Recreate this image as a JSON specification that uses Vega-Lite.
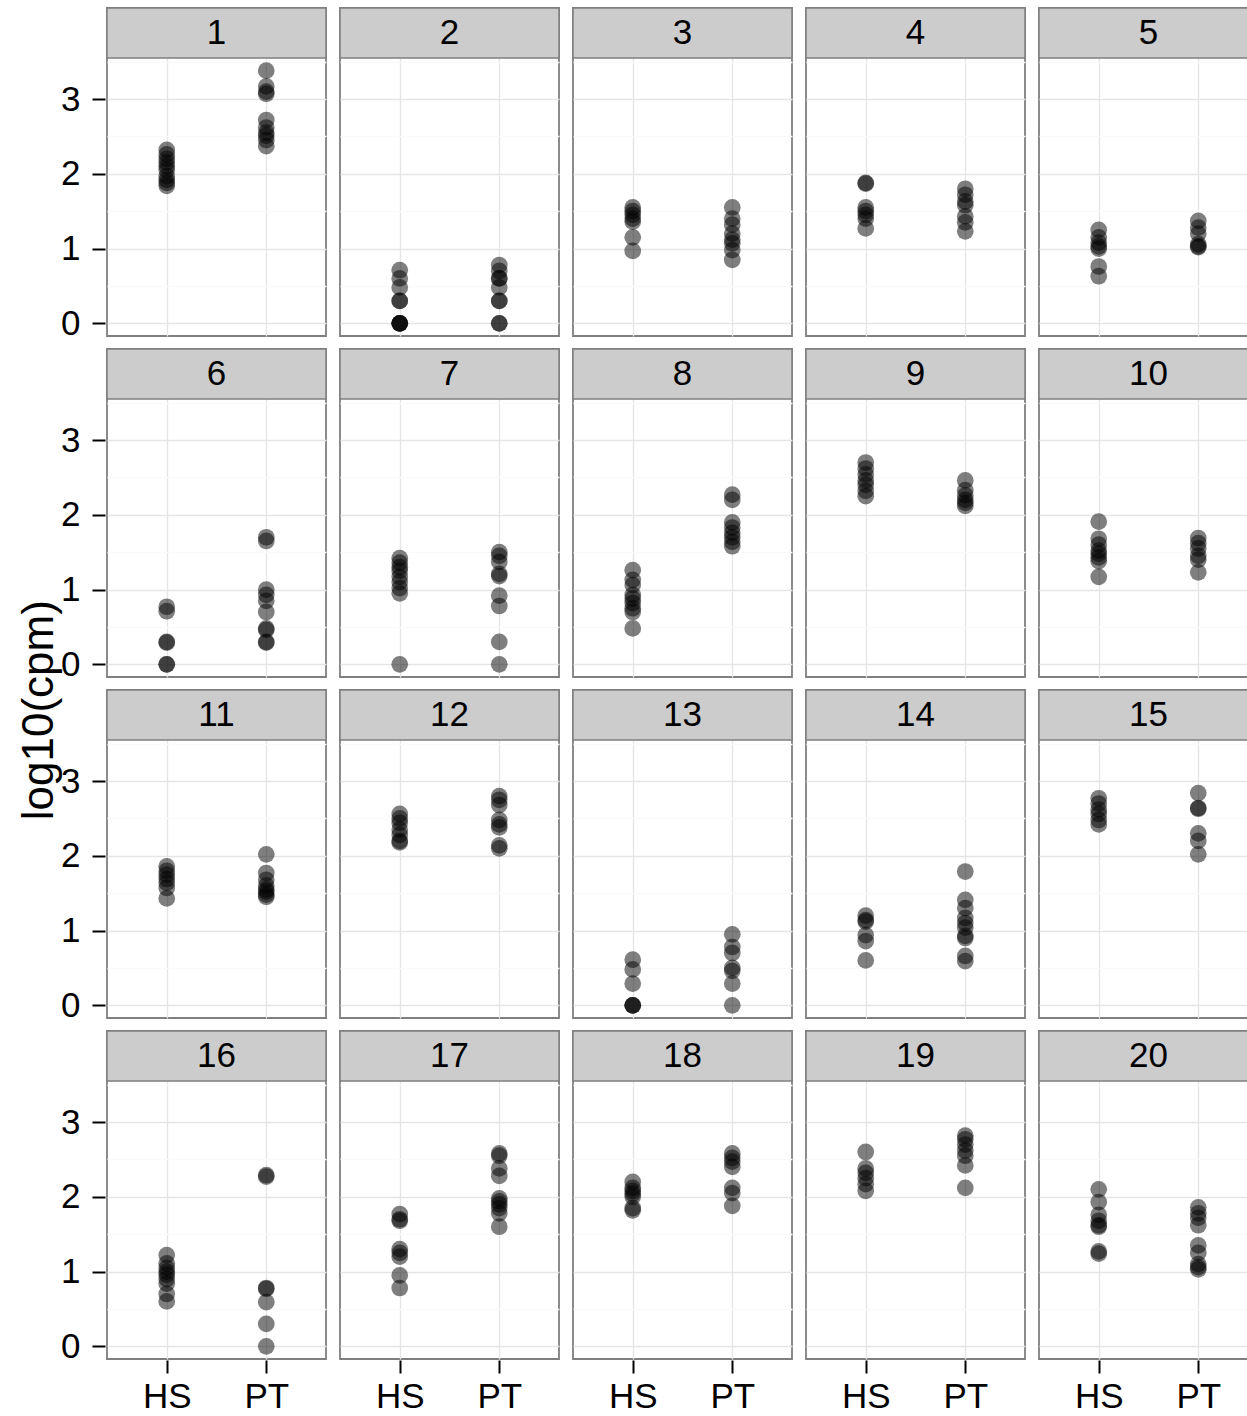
{
"$schema": "https://vega.github.io/schema/vega-lite/v6.json",
"background": "white",
"padding": {"left": 17, "top": 6, "right": 0, "bottom": 0},
"title": {"text": "log10(cpm)", "orient": "left", "anchor": "middle", "fontSize": 44, "fontWeight": "normal", "font": "Liberation Sans", "color": "black", "offset": -1},
"data": {"values": [
{"panel":1,"group":"HS","log10cpm":2.32},{"panel":1,"group":"HS","log10cpm":2.26},{"panel":1,"group":"HS","log10cpm":2.2},{"panel":1,"group":"HS","log10cpm":2.15},{"panel":1,"group":"HS","log10cpm":2.1},{"panel":1,"group":"HS","log10cpm":2.05},{"panel":1,"group":"HS","log10cpm":1.97},{"panel":1,"group":"HS","log10cpm":1.92},{"panel":1,"group":"HS","log10cpm":1.88},{"panel":1,"group":"HS","log10cpm":1.84},
{"panel":1,"group":"PT","log10cpm":3.38},{"panel":1,"group":"PT","log10cpm":3.17},{"panel":1,"group":"PT","log10cpm":3.1},{"panel":1,"group":"PT","log10cpm":3.07},{"panel":1,"group":"PT","log10cpm":2.72},{"panel":1,"group":"PT","log10cpm":2.62},{"panel":1,"group":"PT","log10cpm":2.55},{"panel":1,"group":"PT","log10cpm":2.51},{"panel":1,"group":"PT","log10cpm":2.45},{"panel":1,"group":"PT","log10cpm":2.37},
{"panel":2,"group":"HS","log10cpm":0.71},{"panel":2,"group":"HS","log10cpm":0.6},{"panel":2,"group":"HS","log10cpm":0.48},{"panel":2,"group":"HS","log10cpm":0.3},{"panel":2,"group":"HS","log10cpm":0.3},{"panel":2,"group":"HS","log10cpm":0},{"panel":2,"group":"HS","log10cpm":0},{"panel":2,"group":"HS","log10cpm":0},{"panel":2,"group":"HS","log10cpm":0},
{"panel":2,"group":"PT","log10cpm":0.78},{"panel":2,"group":"PT","log10cpm":0.7},{"panel":2,"group":"PT","log10cpm":0.6},{"panel":2,"group":"PT","log10cpm":0.6},{"panel":2,"group":"PT","log10cpm":0.48},{"panel":2,"group":"PT","log10cpm":0.3},{"panel":2,"group":"PT","log10cpm":0.3},{"panel":2,"group":"PT","log10cpm":0},{"panel":2,"group":"PT","log10cpm":0},
{"panel":3,"group":"HS","log10cpm":1.55},{"panel":3,"group":"HS","log10cpm":1.5},{"panel":3,"group":"HS","log10cpm":1.45},{"panel":3,"group":"HS","log10cpm":1.4},{"panel":3,"group":"HS","log10cpm":1.36},{"panel":3,"group":"HS","log10cpm":1.15},{"panel":3,"group":"HS","log10cpm":0.97},
{"panel":3,"group":"PT","log10cpm":1.55},{"panel":3,"group":"PT","log10cpm":1.4},{"panel":3,"group":"PT","log10cpm":1.32},{"panel":3,"group":"PT","log10cpm":1.2},{"panel":3,"group":"PT","log10cpm":1.12},{"panel":3,"group":"PT","log10cpm":1.07},{"panel":3,"group":"PT","log10cpm":0.98},{"panel":3,"group":"PT","log10cpm":0.85},
{"panel":4,"group":"HS","log10cpm":1.88},{"panel":4,"group":"HS","log10cpm":1.87},{"panel":4,"group":"HS","log10cpm":1.55},{"panel":4,"group":"HS","log10cpm":1.5},{"panel":4,"group":"HS","log10cpm":1.45},{"panel":4,"group":"HS","log10cpm":1.4},{"panel":4,"group":"HS","log10cpm":1.27},
{"panel":4,"group":"PT","log10cpm":1.8},{"panel":4,"group":"PT","log10cpm":1.72},{"panel":4,"group":"PT","log10cpm":1.63},{"panel":4,"group":"PT","log10cpm":1.58},{"panel":4,"group":"PT","log10cpm":1.43},{"panel":4,"group":"PT","log10cpm":1.35},{"panel":4,"group":"PT","log10cpm":1.23},
{"panel":5,"group":"HS","log10cpm":1.25},{"panel":5,"group":"HS","log10cpm":1.15},{"panel":5,"group":"HS","log10cpm":1.08},{"panel":5,"group":"HS","log10cpm":1.03},{"panel":5,"group":"HS","log10cpm":1.0},{"panel":5,"group":"HS","log10cpm":0.76},{"panel":5,"group":"HS","log10cpm":0.63},
{"panel":5,"group":"PT","log10cpm":1.37},{"panel":5,"group":"PT","log10cpm":1.28},{"panel":5,"group":"PT","log10cpm":1.2},{"panel":5,"group":"PT","log10cpm":1.06},{"panel":5,"group":"PT","log10cpm":1.03},{"panel":5,"group":"PT","log10cpm":1.02},
{"panel":6,"group":"HS","log10cpm":0.77},{"panel":6,"group":"HS","log10cpm":0.71},{"panel":6,"group":"HS","log10cpm":0.3},{"panel":6,"group":"HS","log10cpm":0.29},{"panel":6,"group":"HS","log10cpm":0},{"panel":6,"group":"HS","log10cpm":0},
{"panel":6,"group":"PT","log10cpm":1.7},{"panel":6,"group":"PT","log10cpm":1.65},{"panel":6,"group":"PT","log10cpm":1.0},{"panel":6,"group":"PT","log10cpm":0.93},{"panel":6,"group":"PT","log10cpm":0.85},{"panel":6,"group":"PT","log10cpm":0.7},{"panel":6,"group":"PT","log10cpm":0.48},{"panel":6,"group":"PT","log10cpm":0.46},{"panel":6,"group":"PT","log10cpm":0.3},{"panel":6,"group":"PT","log10cpm":0.29},
{"panel":7,"group":"HS","log10cpm":1.42},{"panel":7,"group":"HS","log10cpm":1.36},{"panel":7,"group":"HS","log10cpm":1.3},{"panel":7,"group":"HS","log10cpm":1.25},{"panel":7,"group":"HS","log10cpm":1.17},{"panel":7,"group":"HS","log10cpm":1.1},{"panel":7,"group":"HS","log10cpm":1.02},{"panel":7,"group":"HS","log10cpm":0.95},{"panel":7,"group":"HS","log10cpm":0},
{"panel":7,"group":"PT","log10cpm":1.5},{"panel":7,"group":"PT","log10cpm":1.45},{"panel":7,"group":"PT","log10cpm":1.37},{"panel":7,"group":"PT","log10cpm":1.21},{"panel":7,"group":"PT","log10cpm":1.18},{"panel":7,"group":"PT","log10cpm":0.92},{"panel":7,"group":"PT","log10cpm":0.78},{"panel":7,"group":"PT","log10cpm":0.3},{"panel":7,"group":"PT","log10cpm":0},
{"panel":8,"group":"HS","log10cpm":1.26},{"panel":8,"group":"HS","log10cpm":1.13},{"panel":8,"group":"HS","log10cpm":1.06},{"panel":8,"group":"HS","log10cpm":0.93},{"panel":8,"group":"HS","log10cpm":0.88},{"panel":8,"group":"HS","log10cpm":0.82},{"panel":8,"group":"HS","log10cpm":0.75},{"panel":8,"group":"HS","log10cpm":0.7},{"panel":8,"group":"HS","log10cpm":0.48},
{"panel":8,"group":"PT","log10cpm":2.27},{"panel":8,"group":"PT","log10cpm":2.2},{"panel":8,"group":"PT","log10cpm":1.9},{"panel":8,"group":"PT","log10cpm":1.83},{"panel":8,"group":"PT","log10cpm":1.76},{"panel":8,"group":"PT","log10cpm":1.7},{"panel":8,"group":"PT","log10cpm":1.64},{"panel":8,"group":"PT","log10cpm":1.58},
{"panel":9,"group":"HS","log10cpm":2.7},{"panel":9,"group":"HS","log10cpm":2.62},{"panel":9,"group":"HS","log10cpm":2.54},{"panel":9,"group":"HS","log10cpm":2.46},{"panel":9,"group":"HS","log10cpm":2.4},{"panel":9,"group":"HS","log10cpm":2.32},{"panel":9,"group":"HS","log10cpm":2.25},
{"panel":9,"group":"PT","log10cpm":2.46},{"panel":9,"group":"PT","log10cpm":2.33},{"panel":9,"group":"PT","log10cpm":2.26},{"panel":9,"group":"PT","log10cpm":2.2},{"panel":9,"group":"PT","log10cpm":2.16},{"panel":9,"group":"PT","log10cpm":2.12},
{"panel":10,"group":"HS","log10cpm":1.91},{"panel":10,"group":"HS","log10cpm":1.68},{"panel":10,"group":"HS","log10cpm":1.6},{"panel":10,"group":"HS","log10cpm":1.52},{"panel":10,"group":"HS","log10cpm":1.48},{"panel":10,"group":"HS","log10cpm":1.43},{"panel":10,"group":"HS","log10cpm":1.38},{"panel":10,"group":"HS","log10cpm":1.17},
{"panel":10,"group":"PT","log10cpm":1.69},{"panel":10,"group":"PT","log10cpm":1.62},{"panel":10,"group":"PT","log10cpm":1.55},{"panel":10,"group":"PT","log10cpm":1.45},{"panel":10,"group":"PT","log10cpm":1.4},{"panel":10,"group":"PT","log10cpm":1.23},
{"panel":11,"group":"HS","log10cpm":1.86},{"panel":11,"group":"HS","log10cpm":1.8},{"panel":11,"group":"HS","log10cpm":1.75},{"panel":11,"group":"HS","log10cpm":1.69},{"panel":11,"group":"HS","log10cpm":1.64},{"panel":11,"group":"HS","log10cpm":1.57},{"panel":11,"group":"HS","log10cpm":1.43},
{"panel":11,"group":"PT","log10cpm":2.02},{"panel":11,"group":"PT","log10cpm":1.77},{"panel":11,"group":"PT","log10cpm":1.68},{"panel":11,"group":"PT","log10cpm":1.6},{"panel":11,"group":"PT","log10cpm":1.55},{"panel":11,"group":"PT","log10cpm":1.52},{"panel":11,"group":"PT","log10cpm":1.48},{"panel":11,"group":"PT","log10cpm":1.45},
{"panel":12,"group":"HS","log10cpm":2.56},{"panel":12,"group":"HS","log10cpm":2.5},{"panel":12,"group":"HS","log10cpm":2.44},{"panel":12,"group":"HS","log10cpm":2.35},{"panel":12,"group":"HS","log10cpm":2.28},{"panel":12,"group":"HS","log10cpm":2.2},{"panel":12,"group":"HS","log10cpm":2.18},
{"panel":12,"group":"PT","log10cpm":2.8},{"panel":12,"group":"PT","log10cpm":2.75},{"panel":12,"group":"PT","log10cpm":2.68},{"panel":12,"group":"PT","log10cpm":2.48},{"panel":12,"group":"PT","log10cpm":2.42},{"panel":12,"group":"PT","log10cpm":2.38},{"panel":12,"group":"PT","log10cpm":2.14},{"panel":12,"group":"PT","log10cpm":2.1},
{"panel":13,"group":"HS","log10cpm":0.61},{"panel":13,"group":"HS","log10cpm":0.48},{"panel":13,"group":"HS","log10cpm":0.29},{"panel":13,"group":"HS","log10cpm":0},{"panel":13,"group":"HS","log10cpm":0},{"panel":13,"group":"HS","log10cpm":0},
{"panel":13,"group":"PT","log10cpm":0.95},{"panel":13,"group":"PT","log10cpm":0.78},{"panel":13,"group":"PT","log10cpm":0.7},{"panel":13,"group":"PT","log10cpm":0.5},{"panel":13,"group":"PT","log10cpm":0.46},{"panel":13,"group":"PT","log10cpm":0.29},{"panel":13,"group":"PT","log10cpm":0},
{"panel":14,"group":"HS","log10cpm":1.2},{"panel":14,"group":"HS","log10cpm":1.14},{"panel":14,"group":"HS","log10cpm":1.12},{"panel":14,"group":"HS","log10cpm":0.94},{"panel":14,"group":"HS","log10cpm":0.86},{"panel":14,"group":"HS","log10cpm":0.6},
{"panel":14,"group":"PT","log10cpm":1.79},{"panel":14,"group":"PT","log10cpm":1.41},{"panel":14,"group":"PT","log10cpm":1.3},{"panel":14,"group":"PT","log10cpm":1.17},{"panel":14,"group":"PT","log10cpm":1.1},{"panel":14,"group":"PT","log10cpm":1.04},{"panel":14,"group":"PT","log10cpm":0.93},{"panel":14,"group":"PT","log10cpm":0.9},{"panel":14,"group":"PT","log10cpm":0.66},{"panel":14,"group":"PT","log10cpm":0.59},
{"panel":15,"group":"HS","log10cpm":2.77},{"panel":15,"group":"HS","log10cpm":2.7},{"panel":15,"group":"HS","log10cpm":2.62},{"panel":15,"group":"HS","log10cpm":2.56},{"panel":15,"group":"HS","log10cpm":2.48},{"panel":15,"group":"HS","log10cpm":2.42},
{"panel":15,"group":"PT","log10cpm":2.84},{"panel":15,"group":"PT","log10cpm":2.64},{"panel":15,"group":"PT","log10cpm":2.63},{"panel":15,"group":"PT","log10cpm":2.3},{"panel":15,"group":"PT","log10cpm":2.2},{"panel":15,"group":"PT","log10cpm":2.02},
{"panel":16,"group":"HS","log10cpm":1.22},{"panel":16,"group":"HS","log10cpm":1.11},{"panel":16,"group":"HS","log10cpm":1.05},{"panel":16,"group":"HS","log10cpm":1.0},{"panel":16,"group":"HS","log10cpm":0.96},{"panel":16,"group":"HS","log10cpm":0.9},{"panel":16,"group":"HS","log10cpm":0.84},{"panel":16,"group":"HS","log10cpm":0.7},{"panel":16,"group":"HS","log10cpm":0.6},
{"panel":16,"group":"PT","log10cpm":2.29},{"panel":16,"group":"PT","log10cpm":2.27},{"panel":16,"group":"PT","log10cpm":0.78},{"panel":16,"group":"PT","log10cpm":0.77},{"panel":16,"group":"PT","log10cpm":0.59},{"panel":16,"group":"PT","log10cpm":0.3},{"panel":16,"group":"PT","log10cpm":0},
{"panel":17,"group":"HS","log10cpm":1.77},{"panel":17,"group":"HS","log10cpm":1.7},{"panel":17,"group":"HS","log10cpm":1.68},{"panel":17,"group":"HS","log10cpm":1.3},{"panel":17,"group":"HS","log10cpm":1.25},{"panel":17,"group":"HS","log10cpm":1.2},{"panel":17,"group":"HS","log10cpm":0.95},{"panel":17,"group":"HS","log10cpm":0.78},
{"panel":17,"group":"PT","log10cpm":2.58},{"panel":17,"group":"PT","log10cpm":2.55},{"panel":17,"group":"PT","log10cpm":2.38},{"panel":17,"group":"PT","log10cpm":2.28},{"panel":17,"group":"PT","log10cpm":1.98},{"panel":17,"group":"PT","log10cpm":1.94},{"panel":17,"group":"PT","log10cpm":1.9},{"panel":17,"group":"PT","log10cpm":1.85},{"panel":17,"group":"PT","log10cpm":1.78},{"panel":17,"group":"PT","log10cpm":1.6},
{"panel":18,"group":"HS","log10cpm":2.2},{"panel":18,"group":"HS","log10cpm":2.12},{"panel":18,"group":"HS","log10cpm":2.08},{"panel":18,"group":"HS","log10cpm":2.04},{"panel":18,"group":"HS","log10cpm":2.0},{"panel":18,"group":"HS","log10cpm":1.85},{"panel":18,"group":"HS","log10cpm":1.82},
{"panel":18,"group":"PT","log10cpm":2.58},{"panel":18,"group":"PT","log10cpm":2.52},{"panel":18,"group":"PT","log10cpm":2.47},{"panel":18,"group":"PT","log10cpm":2.4},{"panel":18,"group":"PT","log10cpm":2.12},{"panel":18,"group":"PT","log10cpm":2.05},{"panel":18,"group":"PT","log10cpm":1.88},
{"panel":19,"group":"HS","log10cpm":2.6},{"panel":19,"group":"HS","log10cpm":2.38},{"panel":19,"group":"HS","log10cpm":2.32},{"panel":19,"group":"HS","log10cpm":2.25},{"panel":19,"group":"HS","log10cpm":2.17},{"panel":19,"group":"HS","log10cpm":2.08},
{"panel":19,"group":"PT","log10cpm":2.82},{"panel":19,"group":"PT","log10cpm":2.77},{"panel":19,"group":"PT","log10cpm":2.7},{"panel":19,"group":"PT","log10cpm":2.62},{"panel":19,"group":"PT","log10cpm":2.55},{"panel":19,"group":"PT","log10cpm":2.42},{"panel":19,"group":"PT","log10cpm":2.12},
{"panel":20,"group":"HS","log10cpm":2.1},{"panel":20,"group":"HS","log10cpm":1.93},{"panel":20,"group":"HS","log10cpm":1.76},{"panel":20,"group":"HS","log10cpm":1.68},{"panel":20,"group":"HS","log10cpm":1.62},{"panel":20,"group":"HS","log10cpm":1.6},{"panel":20,"group":"HS","log10cpm":1.27},{"panel":20,"group":"HS","log10cpm":1.24},
{"panel":20,"group":"PT","log10cpm":1.86},{"panel":20,"group":"PT","log10cpm":1.78},{"panel":20,"group":"PT","log10cpm":1.72},{"panel":20,"group":"PT","log10cpm":1.62},{"panel":20,"group":"PT","log10cpm":1.35},{"panel":20,"group":"PT","log10cpm":1.25},{"panel":20,"group":"PT","log10cpm":1.1},{"panel":20,"group":"PT","log10cpm":1.06},{"panel":20,"group":"PT","log10cpm":1.03}
]},
"columns": 5,
"spacing": {"row": 10, "column": 10},
"facet": {"field": "panel", "type": "ordinal", "header": {"title": null, "labels": false, "labelExpr": "''", "labelFontSize": 0, "labelPadding": 0}},
"spec": {
  "width": 219,
  "height": 328,
  "layer": [
    {
      "mark": {"type": "point", "filled": true, "size": 280, "opacity": 0.5, "color": "black", "strokeWidth": 0},
      "encoding": {
        "x": {"field": "group", "type": "nominal", "scale": {"domain": ["HS", "PT"], "padding": 0.6},
              "axis": {"title": null, "labelAngle": 0, "labelPadding": 6, "grid": true}},
        "y": {"field": "log10cpm", "type": "quantitative",
              "scale": {"domain": [-0.17, 4.219], "nice": false, "zero": false},
              "axis": {"title": null, "values": [0, 0.5, 1, 1.5, 2, 2.5, 3, 3.5], "labelPadding": 12,
                       "labelExpr": "datum.value % 1 === 0 ? format(datum.value, 'd') : ''",
                       "gridColor": {"condition": {"test": "datum.value % 1 !== 0", "value": "#FAFAFA"}, "value": "#E5E5E5"},
                       "tickOpacity": {"condition": {"test": "datum.value % 1 !== 0", "value": 0}, "value": 1}}}
      }
    },
    {
      "transform": [{"aggregate": [{"op": "count", "as": "n"}], "groupby": ["panel"]}],
      "mark": {"type": "rect", "fill": "#CCCCCC", "stroke": "#7F7F7F", "strokeWidth": 1.5},
      "encoding": {"y": {"datum": 3.55}, "y2": {"datum": 4.219}}
    },
    {
      "transform": [{"aggregate": [{"op": "count", "as": "n"}], "groupby": ["panel"]}],
      "mark": {"type": "text", "fontSize": 35, "font": "Liberation Sans", "color": "black", "baseline": "middle", "align": "center"},
      "encoding": {"y": {"datum": 3.885}, "text": {"field": "panel", "type": "nominal"}}
    }
  ]
},
"config": {
  "view": {"stroke": "#7F7F7F", "strokeWidth": 1.8},
  "header": {"labels": false, "title": null, "labelFontSize": 0, "labelPadding": 0},
  "headerFacet": {"labels": false, "title": null, "labelFontSize": 0, "labelPadding": 0},
  "axis": {"labelFont": "Liberation Sans", "labelFontSize": 35, "labelColor": "black", "tickColor": "black", "tickWidth": 2, "tickSize": 13, "domain": false, "gridColor": "#E5E5E5", "gridWidth": 1.3}
}
}
